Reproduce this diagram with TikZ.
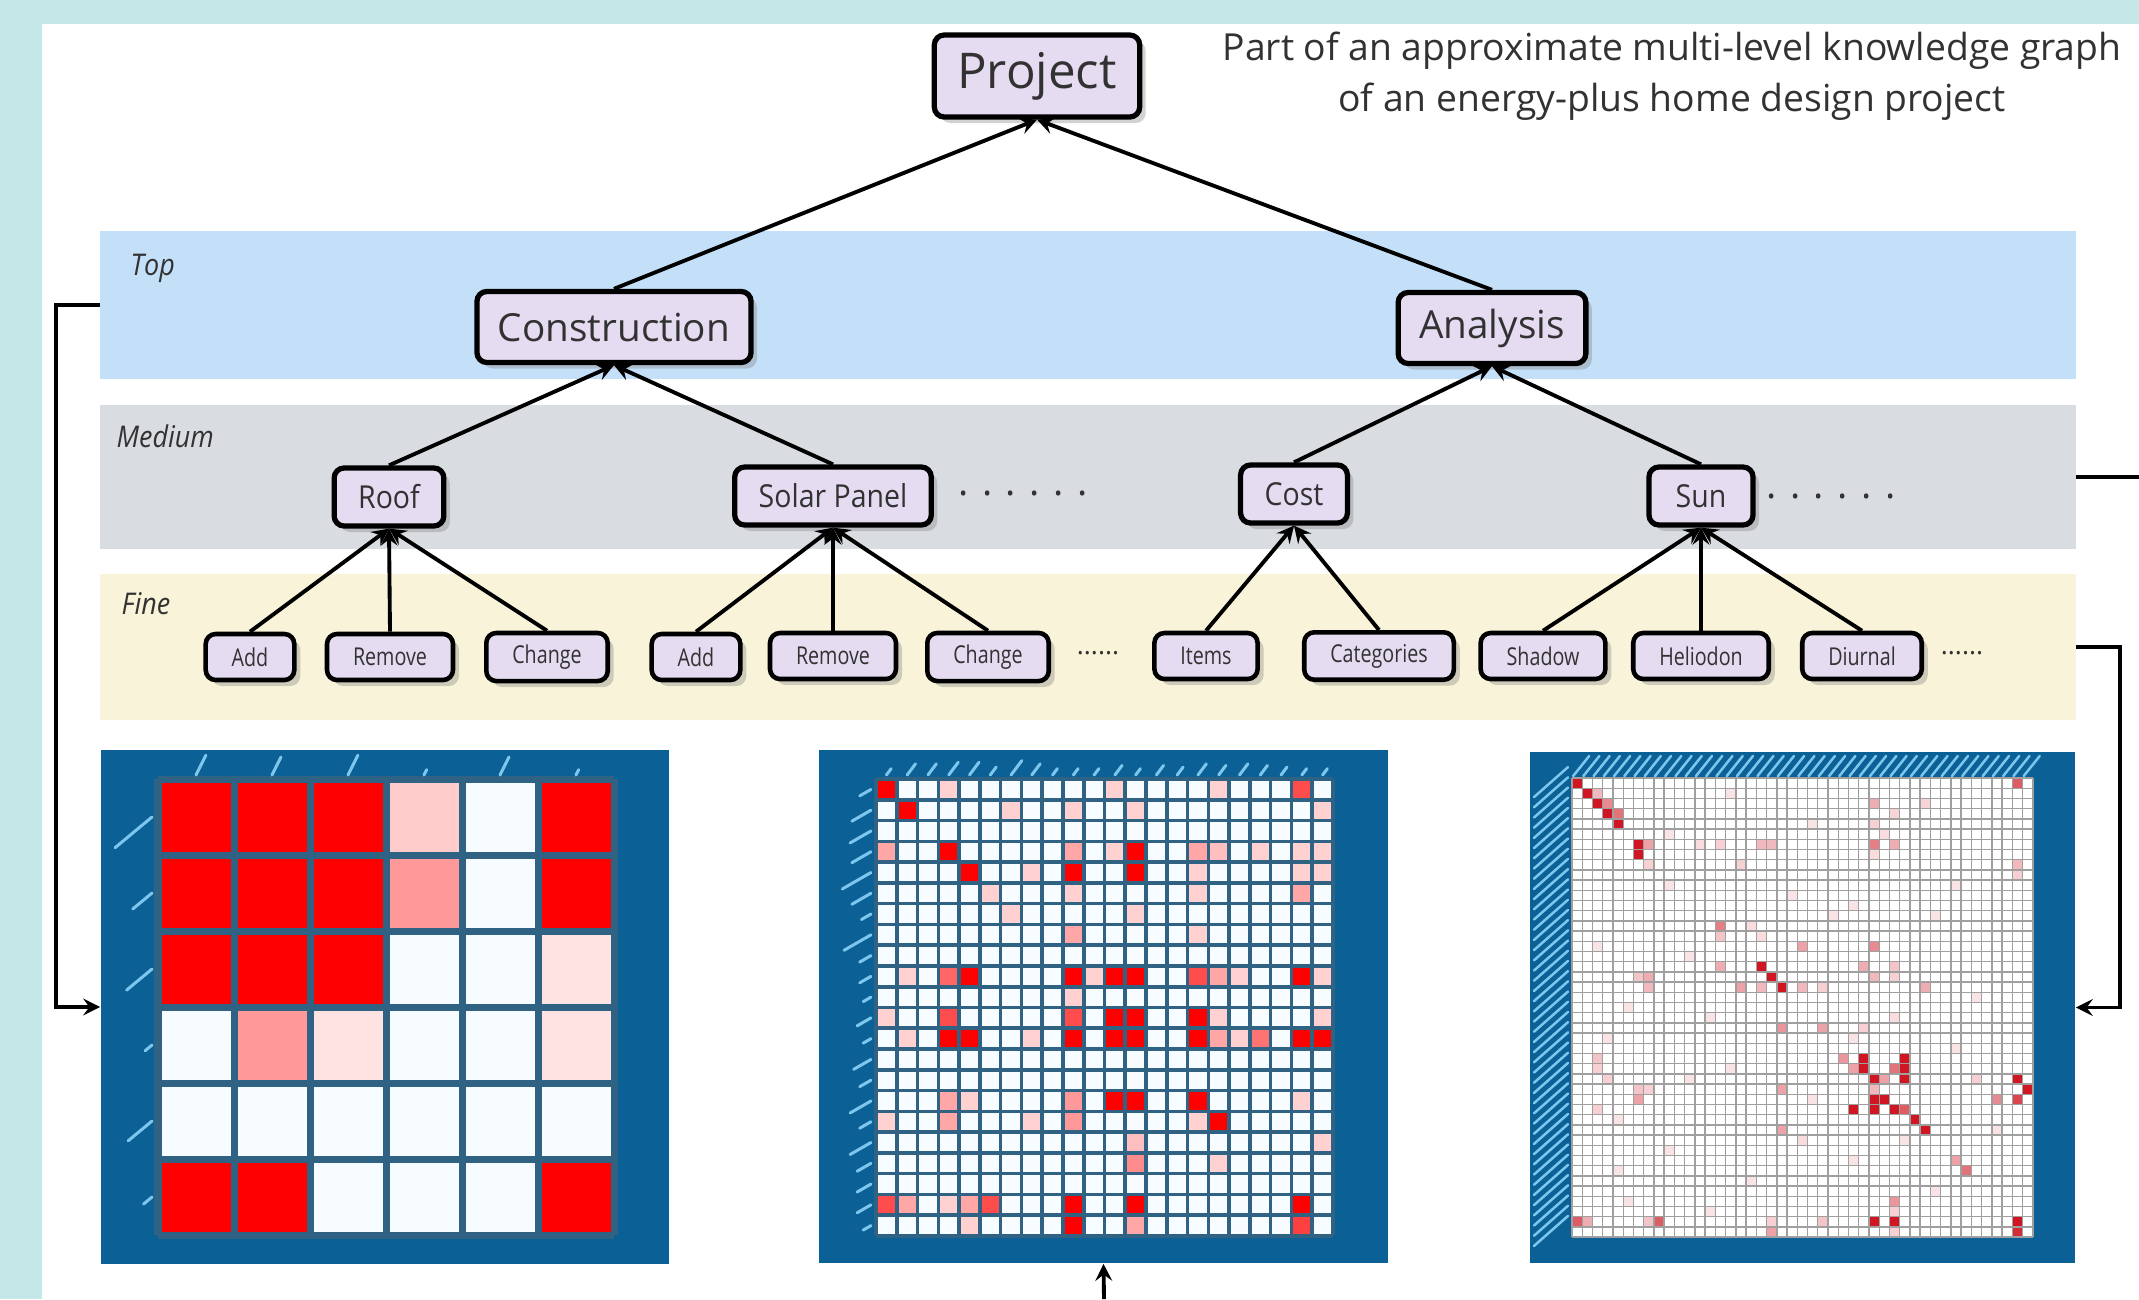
\documentclass[tikz,border=0pt]{standalone}
\usepackage{fontspec}
\setmainfont{Open Sans}
\newfontfamily\midfont[FakeStretch=0.9]{Open Sans}
\newfontfamily\finefont[FakeStretch=0.8]{Open Sans}
\usetikzlibrary{shapes.geometric, arrows, shadows}
\definecolor{bgteal}{RGB}{198,231,231}
\definecolor{topblue}{RGB}{196,224,249}
\definecolor{medgray}{RGB}{217,220,224}
\definecolor{fineyellow}{RGB}{249,243,217}
\definecolor{nodefill}{RGB}{229,220,242}
\definecolor{textgray}{RGB}{50,50,50}
\definecolor{matblue}{RGB}{11,97,150}
\definecolor{gridblue}{RGB}{48,98,132}
\definecolor{cellwhite}{RGB}{246,252,255}
\definecolor{labelblue}{RGB}{125,198,238}
\definecolor{heatred}{RGB}{208,22,34}
\tikzstyle{kgnode} = [rectangle, rounded corners=1mm, draw=black, line width=1.5pt, fill=nodefill, text=textgray, text centered, drop shadow={shadow xshift=0.6mm, shadow yshift=-0.6mm, opacity=0.35}]
\tikzstyle{rootnode} = [kgnode, font=\fontsize{14}{16}\selectfont, minimum height=0.82cm, inner xsep=2.3mm]
\tikzstyle{topnode} = [kgnode, font=\fontsize{11}{13}\selectfont, minimum height=0.71cm, inner xsep=2.1mm]
\tikzstyle{midnode} = [kgnode, font=\midfont\fontsize{9}{11}\selectfont, minimum height=0.58cm, minimum width=1.04cm, inner xsep=2.4mm]
\tikzstyle{finenode} = [kgnode, font=\finefont\fontsize{7}{8}\selectfont, minimum height=0.46cm, minimum width=0.8cm, inner xsep=2.6mm, line width=1.3pt]
\tikzstyle{band} = [rectangle, minimum width=19.74cm, inner sep=0pt]
\tikzstyle{bandlabel} = [font=\midfont\itshape\fontsize{8.5}{10}\selectfont, text=textgray, anchor=west, inner sep=0pt]
\tikzstyle{link} = [line width=1.1pt, ->, >=stealth]
\tikzstyle{feed} = [line width=1.1pt, ->, >=stealth]
\tikzstyle{matframe} = [rectangle, fill=matblue, inner sep=0pt]
\tikzstyle{labelstroke} = [labelblue, line width=0.3mm, line cap=round]

\begin{document}
\begin{tikzpicture}[x=0.01cm, y=-0.01cm]
\useasboundingbox (0,0) rectangle (2139,1299);
\clip (0,0) rectangle (2139,1299);
\fill[bgteal] (0,0) rectangle (2139,1299);
\fill[white] (42,24) rectangle (2139,1299);

% level bands
\node (topband) [band, fill=topblue, minimum height=1.48cm] at (1088,305) {};
\node (midband) [band, fill=medgray, minimum height=1.44cm] at (1088,477) {};
\node (fineband) [band, fill=fineyellow, minimum height=1.46cm] at (1088,647) {};
\node (toplabel) [bandlabel] at (130,268) {Top};
\node (midlabel) [bandlabel] at (116,436) {Medium};
\node (finelabel) [bandlabel] at (121,604) {Fine};

\node (title) [font=\fontsize{10.6}{14.4}\selectfont, text=textgray, align=center] at (1672,76) {Part of an approximate multi-level knowledge graph\\of an energy-plus home design project};

% knowledge graph
\node (project) [rootnode] at (1037,76) {Project};
\node (construction) [topnode] at (614,327) {Construction};
\node (analysis) [topnode] at (1492,328) {Analysis};
\node (roof) [midnode] at (389,497) {Roof};
\node (solar) [midnode] at (833,496) {Solar Panel};
\node (cost) [midnode] at (1294,494) {Cost};
\node (sun) [midnode] at (1701,496) {Sun};
\node (middotsA) [font=\fontsize{11}{13}\selectfont, text=textgray] at (1023,493) {. . . . . .};
\node (middotsB) [font=\fontsize{11}{13}\selectfont, text=textgray] at (1831,496) {. . . . . .};
\node (roofadd) [finenode] at (250,657) {Add};
\node (roofremove) [finenode] at (390,657) {Remove};
\node (roofchange) [finenode] at (547,657) {Change};
\node (solaradd) [finenode] at (696,657) {Add};
\node (solarremove) [finenode] at (833,656) {Remove};
\node (solarchange) [finenode] at (988,657) {Change};
\node (finedotsA) [font=\fontsize{7.5}{8}\selectfont, text=textgray] at (1098,653) {......};
\node (items) [finenode] at (1206,656) {Items};
\node (categories) [finenode] at (1379,656) {Categories};
\node (shadow) [finenode] at (1543,656) {Shadow};
\node (heliodon) [finenode] at (1701,656) {Heliodon};
\node (diurnal) [finenode] at (1862,656) {Diurnal};
\node (finedotsB) [font=\fontsize{7.5}{8}\selectfont, text=textgray] at (1962,653) {......};

\draw [link] (construction.north) -- (project.south);
\draw [link] (analysis.north) -- (project.south);
\draw [link] (roof.north) -- (construction.south);
\draw [link] (solar.north) -- (construction.south);
\draw [link] (cost.north) -- (analysis.south);
\draw [link] (sun.north) -- (analysis.south);
\draw [link] (roofadd.north) -- (roof.south);
\draw [link] (roofremove.north) -- (roof.south);
\draw [link] (roofchange.north) -- (roof.south);
\draw [link] (solaradd.north) -- (solar.south);
\draw [link] (solarremove.north) -- (solar.south);
\draw [link] (solarchange.north) -- (solar.south);
\draw [link] (items.north) -- (cost.south);
\draw [link] (categories.north) -- (cost.south);
\draw [link] (shadow.north) -- (sun.south);
\draw [link] (heliodon.north) -- (sun.south);
\draw [link] (diurnal.north) -- (sun.south);

% matrices
\node (topmatrix) [matframe, minimum width=5.68cm, minimum height=5.14cm] at (385,1007) {};
\node (midmatrix) [matframe, minimum width=5.69cm, minimum height=5.13cm] at (1103.5,1006.5) {};
\node (finematrix) [matframe, minimum width=5.45cm, minimum height=5.11cm] at (1802.5,1007.5) {};

% top level matrix, 6 x 6
\fill[cellwhite] (158,779) rectangle (614,1235);
\foreach \r/\c/\v in {1/1/100,1/2/100,1/3/100,1/4/20,1/6/100,2/1/100,2/2/100,2/3/100,2/4/40,2/6/100,3/1/100,3/2/100,3/3/100,3/6/11,4/2/40,4/3/11,4/6/11,6/1/100,6/2/100,6/6/100}
  \fill[red!\v] ({158+(\c-1)*76},{779+(\r-1)*76}) rectangle ++(76,76);
\foreach \i in {0,...,6} {
  \draw[gridblue, line width=0.7mm] ({158+\i*76},779) -- ({158+\i*76},1235);
  \draw[gridblue, line width=0.7mm] (158,{779+\i*76}) -- (614,{779+\i*76});
}
\foreach \r/\len in {1/48,2/25,3/33,4/9,5/31,6/11}
  \draw[labelstroke] (152,{779+(\r-0.5)*76}) -- ++({-0.77*\len},{0.64*\len});
\foreach \c/\len in {1/22,2/20,3/22,4/6,5/20,6/6}
  \draw[labelstroke] ({158+(\c-0.5)*76},775) -- ++({0.45*\len},{-0.9*\len});

% medium level matrix, 22 x 22
\fill[cellwhite] (876,779) rectangle (1333,1235);
\foreach \r/\c/\v in {1/1/100,1/4/18,1/12/18,1/17/18,1/21/70,
  2/2/100,2/7/18,2/10/18,2/13/18,2/22/18,
  4/1/35,4/4/100,4/10/35,4/12/18,4/13/100,4/16/35,4/17/25,4/19/18,4/21/18,4/22/18,
  5/5/100,5/8/18,5/10/100,5/13/100,5/16/18,5/21/18,5/22/18,
  6/6/18,6/10/18,6/16/18,6/21/35,7/7/18,7/13/18,8/10/35,8/16/18,
  10/2/18,10/4/60,10/5/100,10/10/100,10/11/18,10/12/100,10/13/100,10/16/70,10/17/35,10/18/18,10/21/100,10/22/18,
  11/10/18,
  12/1/18,12/4/70,12/10/70,12/12/100,12/13/100,12/16/100,12/17/18,12/22/18,
  13/2/18,13/4/100,13/5/100,13/8/18,13/10/100,13/12/100,13/13/100,13/16/100,13/17/35,13/18/18,13/19/55,13/21/100,13/22/100,
  16/4/35,16/5/18,16/10/40,16/12/100,16/13/100,16/16/100,16/21/18,
  17/1/18,17/4/35,17/8/18,17/10/40,17/16/18,17/17/100,
  18/13/25,18/22/18,19/13/45,19/17/18,
  21/1/70,21/2/35,21/4/18,21/5/35,21/6/70,21/10/100,21/13/100,21/21/100,
  22/5/18,22/10/100,22/13/35,22/21/75}
  \fill[red!\v] ({876+(\c-1)*20.77},{779+(\r-1)*20.77}) rectangle ++(20.77,20.77);
\foreach \i in {0,...,22} {
  \draw[gridblue, line width=0.36mm] ({876+\i*20.77},779) -- ({876+\i*20.77},1235);
  \draw[gridblue, line width=0.36mm] (876,{779+\i*20.77}) -- (1333,{779+\i*20.77});
}
\foreach \r/\len in {1/13,2/22,3/24,4/22,5/33,6/22,7/11,8/31,9/13,10/13,11/9,12/16,13/9,14/20,15/13,16/24,17/13,18/24,19/16,20/16,21/16,22/9}
  \draw[labelstroke] (871,{779+(\r-0.5)*20.77}) -- ++({-0.87*\len},{0.5*\len});
\foreach \c/\len in {1/8,2/14,3/14,4/16,5/16,6/10,7/18,8/14,9/8,10/8,11/8,12/12,13/8,14/12,15/10,16/14,17/12,18/14,19/12,20/10,21/8,22/8}
  \draw[labelstroke] ({876+(\c-0.5)*20.77},775) -- ++({0.6*\len},{-0.8*\len});

% fine level matrix, 45 x 45
\fill[white] (1572,778) rectangle (2033,1237);
\foreach \r/\c/\v in {1/1/100,2/2/100,3/3/100,3/4/50,4/4/100,4/5/60,5/5/100,2/3/30,
  7/7/100,8/7/100,7/8/40,9/8/20,
  1/44/70,3/30/35,4/32/18,3/35/18,7/30/55,7/32/35,7/19/30,7/20/30,7/15/20,7/13/15,9/17/20,9/44/30,10/44/20,5/30/20,6/31/15,8/30/15,
  15/15/55,16/15/25,17/23/40,17/30/50,16/19/15,15/18/15,
  19/19/100,20/20/100,21/21/100,19/15/35,21/17/40,21/19/30,21/23/30,21/25/20,19/29/35,20/30/30,19/32/25,20/32/20,21/35/35,20/8/35,20/7/25,21/8/30,
  25/21/45,25/25/40,25/29/20,24/32/15,
  28/27/45,28/29/100,29/29/100,29/28/40,30/30/100,28/33/100,29/33/100,30/33/100,29/32/60,30/31/40,31/30/30,
  32/30/100,32/31/100,33/28/100,33/30/100,33/32/100,33/33/70,34/34/100,35/35/100,
  30/44/100,31/45/100,32/44/80,32/42/50,30/40/20,31/21/40,35/21/40,32/7/40,31/7/25,28/3/25,29/3/20,30/4/20,33/3/20,31/8/20,
  38/38/40,39/39/60,36/23/15,42/32/45,43/32/20,
  44/1/70,44/2/35,44/9/70,44/8/25,44/30/100,44/32/100,44/44/100,45/44/90,45/20/40,44/25/25,44/20/20,45/32/20,
  2/16/12,5/24/12,6/10/12,11/10/12,12/22/12,13/28/12,14/36/12,17/3/12,18/12/12,22/40/12,23/6/12,24/14/12,26/4/12,27/38/12,29/16/12,
  30/12/12,32/24/12,34/5/12,35/42/12,37/10/12,38/28/12,40/18/12,41/36/12,42/6/12,43/14/12,26/28/12,11/38/12,14/26/12,36/33/12,39/5/12}
  \fill[heatred!\v] ({1572+(\c-1)*10.24},{778+(\r-1)*10.2}) rectangle ++(10.24,10.2);
\foreach \i in {0,...,45} {
  \draw[gray!75, line width=0.14mm] ({1572+\i*10.24},778) -- ({1572+\i*10.24},1237);
  \draw[gray!75, line width=0.14mm] (1572,{778+\i*10.2}) -- (2033,{778+\i*10.2});
}
\foreach \k in {0,...,44} {
  \draw[labelstroke, line width=0.25mm] (1534,{778+(\k+0.5)*10.2+14}) -- ++(34,-30);
  \draw[labelstroke, line width=0.25mm] ({1572+(\k+0.5)*10.24-4},776) -- ++(16,-20);
}

% links between levels and matrices
\coordinate (leftbend) at (56,305);
\coordinate (rightbend) at (2120,647);
\coordinate (midout) at (2139,477);
\coordinate (midfeed) at (1104,1299);
\draw [feed] (topband.west) -- (leftbend) |- (topmatrix.west);
\draw [feed] (fineband.east) -- (rightbend) |- (finematrix.east);
\draw [line width=1.1pt] (midband.east) -- (midout);
\draw [feed] (midfeed) -- (midmatrix.south);
\end{tikzpicture}
\end{document}
